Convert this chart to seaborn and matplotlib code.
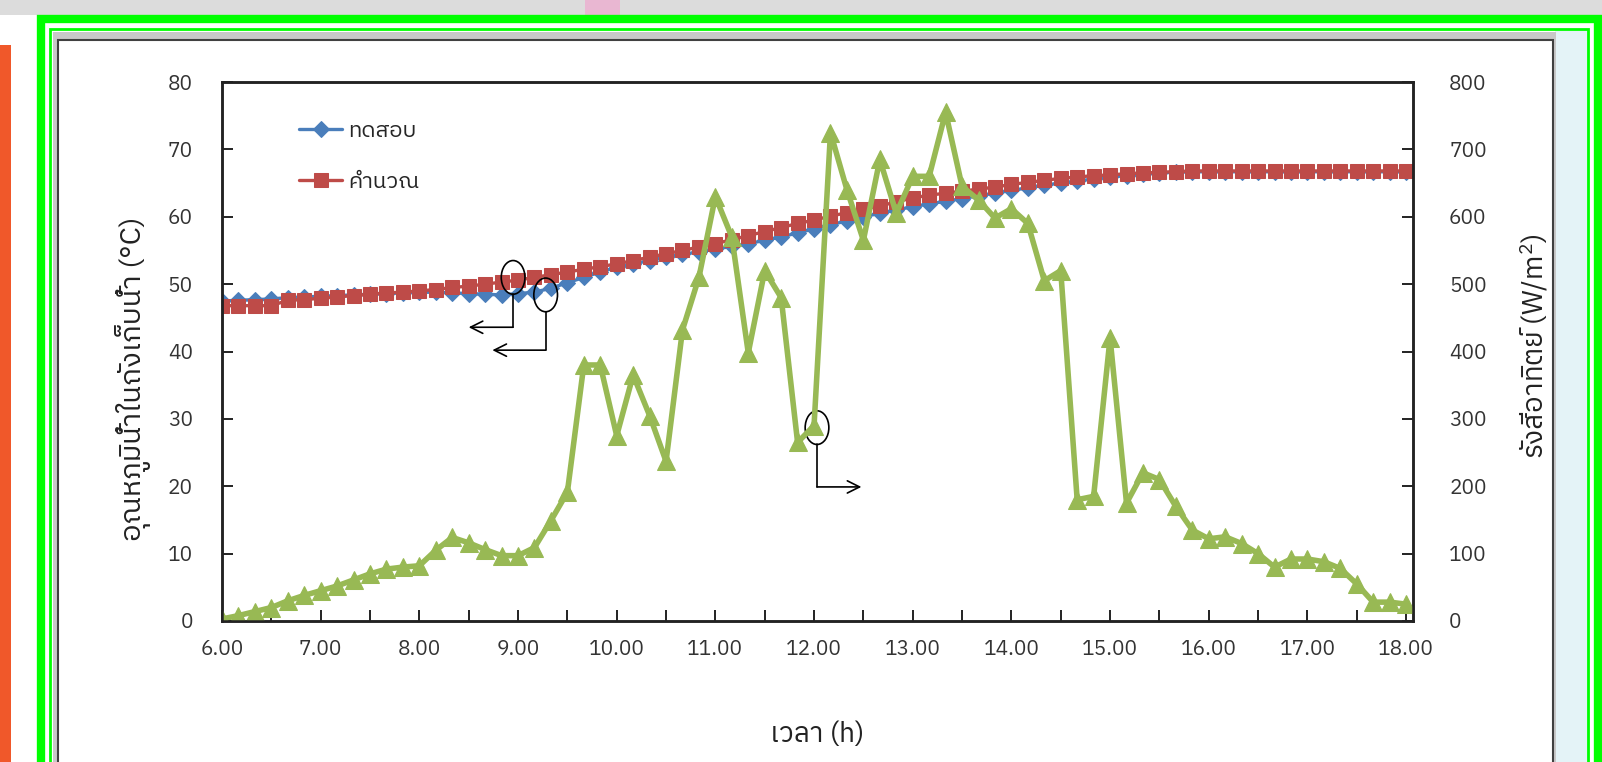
import matplotlib
matplotlib.use('Agg')
import matplotlib.pyplot as plt
import matplotlib.ticker as mticker
from matplotlib import font_manager
from matplotlib.ft2font import FT2Font
from matplotlib.patches import Ellipse, Rectangle
import numpy as np
import pandas as pd
import seaborn as sns

# ---- data, one point every 10 minutes 6.00 -> 18.00
time_min = np.arange(6 * 60, 18 * 60 + 1, 10)

test_temp = [47.5, 47.6, 47.7, 47.8, 48.0, 48.1, 48.2,
             48.3, 48.4, 48.5, 48.6, 48.7, 48.8,
             48.8, 48.7, 48.6, 48.5, 48.4, 48.6,
             48.8, 49.4, 50.2, 51.0, 51.8, 52.5,
             53.0, 53.5, 54.0, 54.4, 54.8, 55.2,
             55.6, 56.0, 56.5, 57.0, 57.6, 58.2,
             58.8, 59.4, 60.0, 60.5, 61.0, 61.5,
             61.9, 62.3, 62.7, 63.1, 63.5, 63.9,
             64.3, 64.7, 65.0, 65.3, 65.6, 65.9,
             66.1, 66.3, 66.5, 66.6, 66.7, 66.7,
             66.7, 66.7, 66.7, 66.7, 66.7, 66.7,
             66.7, 66.7, 66.7, 66.7, 66.7, 66.7]

calc_temp = [46.8, 46.8, 46.8, 46.8, 47.6, 47.7, 47.9,
             48.1, 48.3, 48.5, 48.7, 48.8, 49.0,
             49.2, 49.5, 49.7, 50.0, 50.3, 50.6,
             51.0, 51.4, 51.8, 52.2, 52.6, 53.0,
             53.5, 54.0, 54.5, 55.0, 55.5, 56.0,
             56.6, 57.2, 57.8, 58.4, 59.0, 59.5,
             60.1, 60.6, 61.1, 61.6, 62.2, 62.8,
             63.2, 63.5, 63.8, 64.1, 64.4, 64.8,
             65.1, 65.4, 65.7, 65.9, 66.1, 66.2,
             66.4, 66.5, 66.6, 66.7, 66.8, 66.8,
             66.8, 66.8, 66.8, 66.8, 66.8, 66.8,
             66.8, 66.8, 66.8, 66.8, 66.8, 66.8]

solar = [3, 8, 14, 20, 30, 38, 45,
         52, 61, 70, 77, 80, 82,
         105, 124, 116, 106, 97, 97,
         109, 149, 191, 380, 380, 275,
         365, 305, 237, 432, 510, 630,
         570, 398, 520, 480, 265, 290,
         725, 640, 565, 685, 605, 660,
         660, 755, 645, 625, 598, 612,
         590, 505, 520, 180, 185, 420,
         175, 220, 210, 170, 135, 122,
         125, 115, 100, 80, 92, 92,
         88, 78, 55, 28, 28, 25]

label_test = 'ทดสอบ'
label_calc = 'คำนวณ'
xlabel = 'เวลา (h)'
ylabel_left = 'อุณหภูมิน้ำในถังเก็บน้ำ (°C)'
ylabel_right = 'รังสีอาทิตย์ (W/m$^2$)'

# circled points: (centre hour, centre temp, corner temp, arrow end hour)
callouts = [(8.95, 51.0, 43.6, 8.50),
            (9.28, 48.4, 40.2, 8.74),
            (12.03, 28.7, 19.9, 12.48)]

BLUE = '#4A7EBB'
RED = '#BE4B48'
GREEN = '#98B954'


def thai_fonts():
    names = []
    for entry in font_manager.fontManager.ttflist:
        try:
            if FT2Font(entry.fname).get_char_index(ord('ก')):
                names.append(entry.name)
        except Exception:
            continue
    return names


sns.set_theme(style='ticks')
found = thai_fonts()
pref = [n for n in found if 'Sans' in n] or found
plt.rcParams['font.family'] = (pref[:1] if pref else []) + ['DejaVu Sans']
plt.rcParams['mathtext.default'] = 'regular'

df = pd.DataFrame({'hour': time_min / 60, 'test': test_temp,
                   'calc': calc_temp, 'solar': solar})

fig = plt.figure(figsize=(16.02, 7.62), dpi=100, facecolor='white')
W, H = 1602, 762


def px_rect(x0, y0, x1, y1, **kw):
    r = Rectangle((x0 / W, 1 - y1 / H), (x1 - x0) / W, (y1 - y0) / H,
                  transform=fig.transFigure, **kw)
    fig.add_artist(r)


# screenshot surroundings
px_rect(0, 0, W, 15, facecolor='#dcdcdc', edgecolor='none', zorder=-20)
px_rect(585, 0, 620, 15, facecolor='#e9b7d2', edgecolor='none', zorder=-19)
px_rect(0, 45, 11, H, facecolor='#f0582a', edgecolor='none', zorder=-20)
px_rect(1555, 30, 1588, H, facecolor='#e4f3f7', edgecolor='none', zorder=-20)
px_rect(41, 19, 1598, H + 10, facecolor='none', edgecolor='#00ff00', lw=6, zorder=-5)
px_rect(50, 29, 1588, H + 10, facecolor='none', edgecolor='#00ff00', lw=2, zorder=-5)
px_rect(53, 32, 1556, H + 10, facecolor='#c8c8c8', edgecolor='none', zorder=-19)
px_rect(58, 40, 1553, H + 10, facecolor='white', edgecolor='#404040', lw=1.5, zorder=-18)

ax = fig.add_axes([222 / W, 1 - 621 / H, (1413 - 222) / W, (621 - 82) / H])
ax.set_facecolor('white')

sns.lineplot(data=df, x='hour', y='test', ax=ax, color=BLUE, lw=2.4,
             marker='D', markersize=8.5, markeredgecolor=BLUE, label=label_test)
sns.lineplot(data=df, x='hour', y='calc', ax=ax, color=RED, lw=2.4,
             marker='s', markersize=10, markeredgecolor=RED, label=label_calc)

ax2 = ax.twinx()
sns.lineplot(data=df, x='hour', y='solar', ax=ax2, color=GREEN, lw=4,
             marker='^', markersize=12.5, markeredgecolor=GREEN, legend=False)

ax.set_xlim(6, 18.07)
ax.set_ylim(0, 80)
ax2.set_ylim(0, 800)
ax.set_xticks(np.arange(6, 18.01, 0.5))
ax.xaxis.set_major_formatter(mticker.FuncFormatter(
    lambda v, p: f'{v:.2f}' if abs(v - round(v)) < 1e-6 else ''))
ax.set_yticks(np.arange(0, 81, 10))
ax2.set_yticks(np.arange(0, 801, 100))

for a in (ax, ax2):
    a.tick_params(direction='in', length=8, width=1.4, colors='#222222',
                  labelsize=15, labelcolor='#333333')
    for s in a.spines.values():
        s.set_color('#222222')
        s.set_linewidth(1.8)
ax.tick_params(axis='x', pad=14)
ax.tick_params(axis='y', pad=21)
ax2.tick_params(axis='y', pad=26)

ax.set_xlabel(xlabel, fontsize=20, color='#222222')
ax.set_ylabel(ylabel_left, fontsize=21, color='#222222')
ax2.set_ylabel(ylabel_right, fontsize=20, color='#222222', rotation=90)
ax.xaxis.set_label_coords(0.5, -0.185)
ax.yaxis.set_label_coords(-0.060, 0.45)
ax2.yaxis.set_label_coords(1.088, 0.51)

for cx, cy, corner, end in callouts:
    ax.add_patch(Ellipse((cx, cy), 0.24, 5.0, fill=False, ec='black', lw=1.2, zorder=5))
    ax.plot([cx, cx], [cy - 2.5, corner], color='black', lw=1.2, zorder=5)
    ax.annotate('', xy=(end, corner), xytext=(cx, corner),
                arrowprops=dict(arrowstyle='->', color='black', lw=1.2,
                                mutation_scale=22, shrinkA=0, shrinkB=0),
                zorder=5)

ax.legend(loc='upper left', bbox_to_anchor=(0.065, 0.93), frameon=False,
          fontsize=16, handlelength=1.9, handletextpad=0.3, labelspacing=1.3,
          borderpad=0, borderaxespad=0)

fig.savefig('out.png', dpi=100, facecolor=fig.get_facecolor())
